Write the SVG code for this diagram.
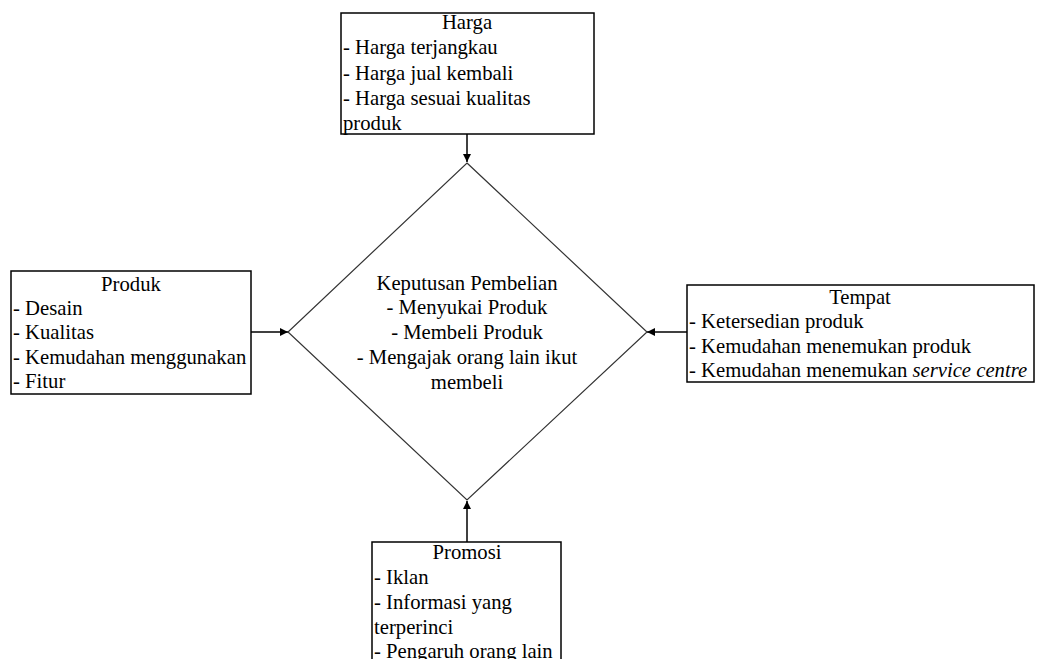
<svg xmlns="http://www.w3.org/2000/svg" width="1038" height="659" viewBox="0 0 1038 659">
<style>
.box{fill:#fff;stroke:#000;stroke-width:1.5}
.dia{fill:#fff;stroke:#333;stroke-width:1.2}
text{font-family:"Liberation Serif","Times New Roman",serif;font-size:20.7px;fill:#000}
.c{text-anchor:middle}
.con{stroke:#000;stroke-width:1.5;fill:none}
</style>
<defs>
<marker id="ah" viewBox="0 0 10 10" refX="10" refY="5" markerWidth="8" markerHeight="8" markerUnits="userSpaceOnUse" orient="auto">
<path d="M0,0 L10,5 L0,10 Z" fill="#000"/>
</marker>
</defs>
<rect width="1038" height="659" fill="#fff"/>
<g id="connectors">
<line class="con" x1="467" y1="134" x2="467" y2="162" marker-end="url(#ah)"/>
<line class="con" x1="251" y1="332" x2="288" y2="332" marker-end="url(#ah)"/>
<line class="con" x1="687" y1="332" x2="647" y2="332" marker-end="url(#ah)"/>
<line class="con" x1="467" y1="542" x2="467" y2="501" marker-end="url(#ah)"/>
</g>
<g id="keputusan">
<polygon class="dia" points="467,163 647,332 467,500 288,332"/>
<text class="c" x="467" y="290">Keputusan Pembelian</text>
<text class="c" x="467" y="314">- Menyukai Produk</text>
<text class="c" x="467" y="339">- Membeli Produk</text>
<text class="c" x="467" y="364">- Mengajak orang lain ikut</text>
<text class="c" x="467" y="389">membeli</text>
</g>
<g id="harga">
<rect class="box" x="341" y="13" width="253" height="121"/>
<text class="c" x="467" y="29">Harga</text>
<text x="343" y="54">- Harga terjangkau</text>
<text x="343" y="80">- Harga jual kembali</text>
<text x="343" y="105">- Harga sesuai kualitas</text>
<text x="343" y="130">produk</text>
</g>
<g id="produk">
<rect class="box" x="11" y="271" width="240" height="123"/>
<text class="c" x="131" y="291">Produk</text>
<text x="13" y="315">- Desain</text>
<text x="13" y="339">- Kualitas</text>
<text x="13" y="364">- Kemudahan menggunakan</text>
<text x="13" y="388">- Fitur</text>
</g>
<g id="tempat">
<rect class="box" x="687" y="285" width="347" height="97"/>
<text class="c" x="860" y="304">Tempat</text>
<text x="689" y="328">- Ketersedian produk</text>
<text x="689" y="353">- Kemudahan menemukan produk</text>
<text x="689" y="377">- Kemudahan menemukan <tspan font-style="italic">service centre</tspan></text>
</g>
<g id="promosi">
<rect class="box" x="372" y="542" width="189" height="130"/>
<text class="c" x="467" y="559">Promosi</text>
<text x="374" y="584">- Iklan</text>
<text x="374" y="609">- Informasi yang</text>
<text x="374" y="634">terperinci</text>
<text x="374" y="658">- Pengaruh orang lain</text>
</g>
</svg>
